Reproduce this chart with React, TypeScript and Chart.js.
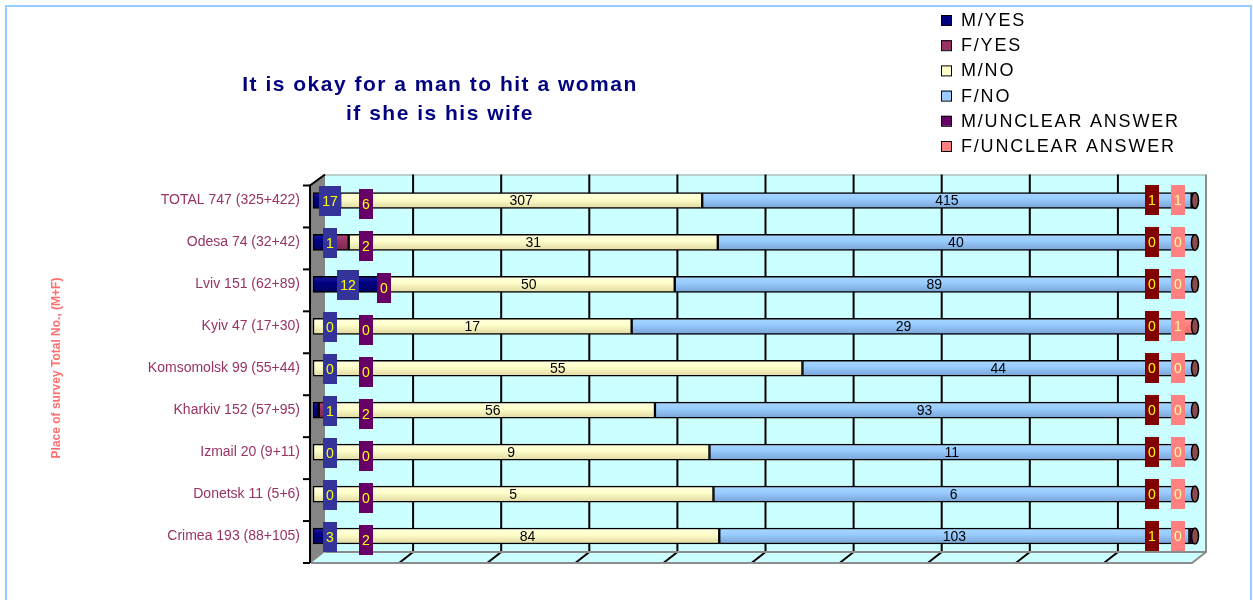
import React, { useEffect, useRef } from 'react';
import { Chart, registerables } from 'chart.js';

Chart.register(...registerables);

const FONT = '"Liberation Sans", Arial, sans-serif';

const categories = [
  'TOTAL 747 (325+422)',
  'Odesa 74 (32+42)',
  'Lviv 151 (62+89)',
  'Kyiv 47 (17+30)',
  'Komsomolsk 99 (55+44)',
  'Kharkiv 152 (57+95)',
  'Izmail 20 (9+11)',
  'Donetsk 11 (5+6)',
  'Crimea 193 (88+105)',
];

const seriesNames = ['M/YES', 'F/YES', 'M/NO', 'F/NO', 'M/UNCLEAR ANSWER', 'F/UNCLEAR ANSWER'];

const mYes = [17, 1, 12, 0, 0, 1, 0, 0, 3];
const fYes = [6, 2, 0, 0, 0, 2, 0, 0, 2];
const mNo = [307, 31, 50, 17, 55, 56, 9, 5, 84];
const fNo = [415, 40, 89, 29, 44, 93, 11, 6, 103];
const mUnclear = [1, 0, 0, 0, 0, 0, 0, 0, 1];
const fUnclear = [1, 0, 0, 1, 0, 0, 0, 0, 0];

const xGridValues = [10, 20, 30, 40, 50, 60, 70, 80, 90];

const titleLines = ['It is okay for a man to hit a woman', 'if she is his wife'];
const yAxisTitle = 'Place of survey Total No., (M+F)';

const seriesValues = [mYes, fYes, mNo, fNo, mUnclear, fUnclear];
const baseColors = ['#000080', '#993366', '#FFFFCC', '#99CCFF', '#660066', '#FF8080'];
const lightColors = ['#1a1aa0', '#b04a7c', '#FFFFE2', '#A8D6FF', '#802080', '#FF9A9A'];
const darkColors = ['#000060', '#7a2850', '#E0D8A0', '#78A2D4', '#4a004a', '#E06868'];
const labelBoxColors = ['#333399', '#660066', null, null, '#800000', '#FF8080'];
const labelTextColors = ['#FFFF00', '#FFFF00', '#000000', '#000000', '#FFFF00', '#FFFF99'];

const totals = categories.map((_, i) => seriesValues.reduce((s, arr) => s + arr[i], 0));

const BAR_T = 16;
const BACK_DX = 12;
const BACK_DY = -5;
const FRONT_DX = -2;
const FRONT_DY = 6;

const scenePlugin = {
  id: 'scene3d',
  beforeDatasetsDraw(chart: any) {
    const { ctx } = chart;
    const xs = chart.scales.x;
    const ys = chart.scales.y;
    const L = xs.left, R = xs.right, T = ys.top, B = ys.bottom;
    ctx.save();
    ctx.fillStyle = '#CCFFFF';
    ctx.fillRect(L + BACK_DX, T + BACK_DY, R - L, B - T);
    ctx.strokeStyle = '#A0A0A0';
    ctx.lineWidth = 1;
    ctx.beginPath();
    ctx.moveTo(L + BACK_DX, T + BACK_DY + 0.5);
    ctx.lineTo(R + BACK_DX, T + BACK_DY + 0.5);
    ctx.stroke();
    ctx.fillStyle = '#CCFFFF';
    ctx.beginPath();
    ctx.moveTo(L + BACK_DX, B + BACK_DY);
    ctx.lineTo(R + BACK_DX, B + BACK_DY);
    ctx.lineTo(R + FRONT_DX, B + FRONT_DY);
    ctx.lineTo(L + FRONT_DX, B + FRONT_DY);
    ctx.closePath();
    ctx.fill();
    ctx.strokeStyle = '#000000';
    ctx.lineWidth = 2;
    xGridValues.forEach((v) => {
      const x = xs.getPixelForValue(v);
      ctx.beginPath();
      ctx.moveTo(x + BACK_DX, T + BACK_DY);
      ctx.lineTo(x + BACK_DX, B + BACK_DY);
      ctx.lineTo(x + FRONT_DX, B + FRONT_DY);
      ctx.stroke();
    });
    ctx.strokeStyle = '#8C8C8C';
    ctx.lineWidth = 2;
    ctx.beginPath();
    ctx.moveTo(L + BACK_DX, B + BACK_DY);
    ctx.lineTo(R + BACK_DX, B + BACK_DY);
    ctx.stroke();
    ctx.beginPath();
    ctx.moveTo(L + FRONT_DX, B + FRONT_DY);
    ctx.lineTo(R + FRONT_DX, B + FRONT_DY);
    ctx.lineTo(R + BACK_DX, B + BACK_DY);
    ctx.lineTo(R + BACK_DX, T + BACK_DY);
    ctx.stroke();
    ctx.fillStyle = '#858585';
    ctx.beginPath();
    ctx.moveTo(L + FRONT_DX, T + FRONT_DY);
    ctx.lineTo(L + BACK_DX, T + BACK_DY);
    ctx.lineTo(L + BACK_DX, B + BACK_DY);
    ctx.lineTo(L + FRONT_DX, B + FRONT_DY);
    ctx.closePath();
    ctx.fill();
    ctx.strokeStyle = '#000000';
    ctx.lineWidth = 2;
    ctx.beginPath();
    ctx.moveTo(L + BACK_DX, T + BACK_DY);
    ctx.lineTo(L + FRONT_DX - 1, T + FRONT_DY);
    ctx.lineTo(L + FRONT_DX - 1, B + FRONT_DY);
    ctx.stroke();
    const n = categories.length;
    for (let k = 0; k <= n; k++) {
      const y = T + FRONT_DY + ((B - T) * k) / n;
      ctx.beginPath();
      ctx.moveTo(L + FRONT_DX - 8, y);
      ctx.lineTo(L + FRONT_DX - 1, y);
      ctx.stroke();
    }
    ctx.restore();
  },
  afterDatasetsDraw(chart: any) {
    const { ctx } = chart;
    const xs = chart.scales.x;
    const L = xs.left, R = xs.right;
    const metas = seriesValues.map((_, d) => chart.getDatasetMeta(d));
    ctx.save();
    categories.forEach((_, i) => {
      const el = metas[metas.length - 1].data[i];
      const yc = el.y;
      ctx.beginPath();
      ctx.ellipse(Math.max(el.x, el.base) + 1, yc, 3.5, BAR_T / 2, 0, 0, Math.PI * 2);
      ctx.fillStyle = '#8B4B4B';
      ctx.fill();
      ctx.strokeStyle = '#000';
      ctx.lineWidth = 1.5;
      ctx.stroke();
    });
    ctx.font = `14px ${FONT}`;
    ctx.textAlign = 'center';
    ctx.textBaseline = 'middle';
    const drawLabel = (d: number, text: string, cx: number, cy: number) => {
      const bg = labelBoxColors[d];
      if (bg) {
        const w = ctx.measureText(text).width + 6;
        const h = 30;
        ctx.fillStyle = bg;
        ctx.fillRect(Math.round(cx - w / 2), Math.round(cy - h / 2), Math.round(w), h);
      }
      ctx.fillStyle = labelTextColors[d];
      ctx.fillText(text, cx, cy + 1);
    };
    categories.forEach((_, i) => {
      const segs = metas.map((m) => {
        const el = m.data[i];
        return { c: (el.x + el.base) / 2, y: el.y };
      });
      const yc = segs[0].y;
      const cx0 = Math.max(segs[0].c, L + 17);
      const cx1 = Math.max(segs[1].c, cx0 + 36);
      const cx5 = Math.min(segs[5].c, R - 16);
      const cx4 = Math.min(segs[4].c, cx5 - 26);
      drawLabel(2, String(seriesValues[2][i]), segs[2].c, yc);
      drawLabel(3, String(seriesValues[3][i]), segs[3].c, yc);
      drawLabel(0, String(seriesValues[0][i]), cx0, yc + 1);
      drawLabel(1, String(seriesValues[1][i]), cx1, yc + 4);
      drawLabel(4, String(seriesValues[4][i]), cx4, yc);
      drawLabel(5, String(seriesValues[5][i]), cx5, yc);
    });
    ctx.restore();
  },
  afterDraw(chart: any) {
    const { ctx } = chart;
    ctx.save();
    ctx.fillStyle = '#000080';
    ctx.font = `bold 21px ${FONT}`;
    ctx.textAlign = 'center';
    ctx.textBaseline = 'alphabetic';
    (ctx as any).letterSpacing = '1.5px';
    ctx.fillText(titleLines[0], 440, 91);
    ctx.fillText(titleLines[1], 440, 120);
    ctx.font = `18px ${FONT}`;
    (ctx as any).letterSpacing = '1.8px';
    ctx.textAlign = 'left';
    ctx.textBaseline = 'middle';
    seriesNames.forEach((name, d) => {
      const y = 20 + d * 25.2;
      ctx.fillStyle = baseColors[d];
      ctx.fillRect(941, y - 5, 10, 10);
      ctx.strokeStyle = '#000';
      ctx.lineWidth = 1;
      ctx.strokeRect(941.5, y - 4.5, 10, 10);
      ctx.fillStyle = '#000';
      ctx.fillText(name, 961, y + 1);
    });
    (ctx as any).letterSpacing = '0px';
    ctx.save();
    ctx.translate(57, 368);
    ctx.rotate(-Math.PI / 2);
    ctx.fillStyle = '#FF6F6F';
    ctx.font = `bold 12px ${FONT}`;
    ctx.textAlign = 'center';
    ctx.textBaseline = 'middle';
    ctx.fillText(yAxisTitle, 0, 0);
    ctx.restore();
    ctx.strokeStyle = '#99CCFF';
    ctx.lineWidth = 2;
    ctx.strokeRect(6, 6, 1245, 640);
    ctx.restore();
  },
};

export default function App() {
  const ref = useRef<HTMLCanvasElement | null>(null);
  useEffect(() => {
    if (!ref.current) return;
    const datasets = seriesValues.map((arr, d) => ({
      label: seriesNames[d],
      data: arr.map((v, i) => (v / totals[i]) * 100),
      stack: 'all',
      barThickness: BAR_T,
      borderColor: '#000000',
      borderWidth: 1.5,
      borderSkipped: false,
      backgroundColor: (c: any) => {
        const chart = c.chart;
        const ys = chart.scales && chart.scales.y;
        if (!ys || c.type !== 'data') return baseColors[d];
        const yc = ys.getPixelForValue(c.dataIndex);
        if (!Number.isFinite(yc)) return baseColors[d];
        const g = chart.ctx.createLinearGradient(0, yc - BAR_T / 2, 0, yc + BAR_T / 2);
        g.addColorStop(0, lightColors[d]);
        g.addColorStop(0.4, baseColors[d]);
        g.addColorStop(1, darkColors[d]);
        return g;
      },
    }));
    const chart = new Chart(ref.current, {
      type: 'bar',
      data: { labels: categories, datasets },
      options: {
        indexAxis: 'y',
        animation: false,
        responsive: false,
        maintainAspectRatio: false,
        layout: { padding: { left: 0, right: 59, top: 179.5, bottom: 43 } },
        plugins: {
          legend: { display: false },
          title: { display: false },
          tooltip: { enabled: false },
        },
        scales: {
          x: { stacked: true, min: 0, max: 100, display: false },
          y: {
            stacked: true,
            grid: { display: false, drawTicks: false },
            border: { display: false },
            ticks: { color: '#993366', font: { family: FONT, size: 14 }, padding: 13 },
            afterFit: (s: any) => {
              s.width = 313;
            },
          },
        },
      } as any,
      plugins: [scenePlugin],
    });
    return () => chart.destroy();
  }, []);
  return (
    <div style={{ position: 'absolute', left: 0, top: 0, width: 1253, height: 600, background: '#fff' }}>
      <canvas ref={ref} width={1253} height={600} style={{ display: 'block' }} />
    </div>
  );
}
